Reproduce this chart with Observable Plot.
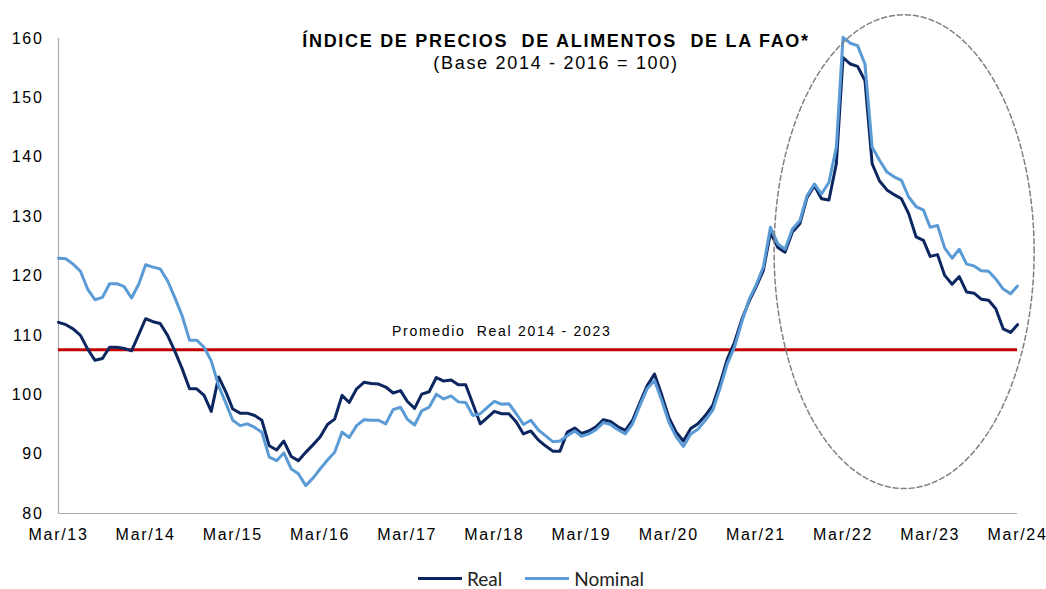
<!DOCTYPE html>
<html>
<head>
<meta charset="utf-8">
<script src="https://cdn.jsdelivr.net/npm/d3@7"></script>
<script src="https://cdn.jsdelivr.net/npm/@observablehq/plot@0.6"></script>
<style>
  body { margin: 0; background: #fff; }
  #wrap { position: relative; width: 1046px; height: 589px; overflow: hidden; }
  svg text { white-space: pre; }
  #legend { position: absolute; top: 569px; left: 418px; display: flex; align-items: center; line-height: 19px; height: 19px;
            font-family: Lato, "Liberation Sans", sans-serif; font-size: 19px; color: #222; }
  .sw { display: inline-block; width: 44px; height: 3px; margin-right: 5px; }
  .item { display: flex; align-items: center; margin-right: 23px; }
</style>
</head>
<body>
<div id="wrap"></div>
<script>
// ---- Data (monthly, Mar 2013 – Mar 2024) ----
const startYear = 2013, startMonth = 2; // March 2013
const real = [
  112.2,111.8,111.1,110.0,107.7,105.8,106.1,108.0,108.0,107.8,
  107.4,110.2,112.8,112.3,112.0,110.0,107.4,104.4,101.0,101.0,
  99.9,97.2,103.0,100.4,97.6,96.9,96.9,96.5,95.7,91.4,
  90.7,92.2,89.6,88.9,90.3,91.6,92.9,95.0,95.9,99.9,
  98.7,101.0,102.1,101.9,101.8,101.3,100.3,100.7,98.9,97.7,
  100.1,100.5,102.9,102.3,102.5,101.7,101.7,98.5,95.1,96.2,
  97.2,96.8,96.8,95.4,93.4,93.9,92.4,91.4,90.5,90.5,
  93.7,94.4,93.5,93.9,94.6,95.8,95.5,94.6,94.0,95.7,
  98.7,101.5,103.5,99.9,96.2,93.7,92.2,94.3,95.1,96.5,
  98.2,101.8,106.0,108.8,112.7,115.8,118.1,120.9,127.3,124.8,
  124.0,127.4,128.8,133.2,135.2,133.0,132.8,138.9,156.8,155.7,
  155.3,152.9,138.9,136.0,134.5,133.7,133.0,130.5,126.6,126.0,
  123.3,123.6,120.1,118.6,119.9,117.3,117.1,116.1,115.9,114.5,
  111.1,110.5,111.8
];
const nominal = [
  123.0,122.9,122.0,120.8,117.8,116.0,116.4,118.7,118.7,118.2,
  116.3,118.7,121.9,121.5,121.2,119.2,116.4,113.3,109.2,109.2,
  108.0,105.7,101.5,98.5,95.7,94.8,95.1,94.5,93.7,89.5,
  88.9,90.2,87.5,86.7,84.7,86.0,87.5,89.0,90.3,93.7,
  92.8,94.8,95.8,95.7,95.7,95.1,97.5,97.9,95.9,94.9,
  97.3,97.9,100.1,99.3,99.8,98.8,98.7,96.5,96.8,97.9,
  98.9,98.4,98.5,96.8,95.0,95.7,94.1,93.1,92.1,92.2,
  93.1,93.9,93.0,93.4,94.1,95.3,95.0,94.1,93.4,95.1,
  98.2,101.0,102.4,99.0,95.4,92.9,91.3,93.4,94.2,95.7,
  97.4,101.0,105.2,108.0,112.3,116.1,118.4,121.5,128.2,125.4,
  124.5,127.9,129.3,133.5,135.5,133.8,135.8,141.7,160.2,159.2,
  158.8,155.7,141.7,139.5,137.5,136.7,136.1,133.3,131.7,131.1,
  128.2,128.5,124.7,123.0,124.5,122.0,121.7,120.9,120.8,119.5,
  117.8,117.0,118.3
];
const xTickYears = [2013,2014,2015,2016,2017,2018,2019,2020,2021,2022,2023,2024];
const yTicks = [80,90,100,110,120,130,140,150,160];
const averageReal = 107.6;
const averageLabel = "Promedio  Real 2014 - 2023";
const titleText = "ÍNDICE DE PRECIOS  DE ALIMENTOS  DE LA FAO*";
const subtitleText = "(Base 2014 - 2016 = 100)";
const seriesNames = ["Real", "Nominal"];
const colors = {Real: "#0C2660", Nominal: "#5B9BD5"};
// highlight ellipse (centre in months from start / index value, radii)
const ellipseSpec = {centerMonth: 116.4, centerValue: 124.1, radiusMonths: 17.9, radiusValue: 39.9};

// ---- Build table ----
const dates = real.map((_, i) => new Date(Date.UTC(startYear, startMonth + i, 1)));
const table = dates.map((d, i) => ({date: d, real: real[i], nominal: nominal[i]}));
const xTicks = xTickYears.map(y => new Date(Date.UTC(y, 2, 1)));
const t0 = dates[0].getTime(), monthMs = 30.4375 * 864e5;
const ellipse = d3.range(0, 361, 2).map(a => {
  const t = a * Math.PI / 180;
  return {
    date: new Date(t0 + (ellipseSpec.centerMonth + ellipseSpec.radiusMonths * Math.cos(t)) * monthMs),
    value: ellipseSpec.centerValue + ellipseSpec.radiusValue * Math.sin(t)
  };
});

const chart = Plot.plot({
  width: 1046,
  height: 560,
  marginTop: 38,
  marginBottom: 47,
  marginLeft: 58,
  marginRight: 29,
  style: {fontFamily: "'Liberation Sans', Arial, sans-serif", fontSize: "16px", color: "#000", background: "#fff", letterSpacing: "1.7px"},
  x: {type: "utc", domain: [dates[0], dates[dates.length - 1]], ticks: xTicks,
      tickFormat: d => "Mar/" + String(d.getUTCFullYear()).slice(2), tickSize: 0, tickPadding: 15, label: null},
  y: {domain: [80, 160], ticks: yTicks, tickSize: 0, tickPadding: 15, label: null},
  marks: [
    Plot.ruleX([dates[0]], {stroke: "#AAAAAA", strokeWidth: 1.2}),
    Plot.ruleY([80], {stroke: "#AAAAAA", strokeWidth: 1.2}),
    Plot.ruleY([averageReal], {stroke: "#C00000", strokeWidth: 3}),
    Plot.line(table, {x: "date", y: "real", stroke: colors.Real, strokeWidth: 3}),
    Plot.line(table, {x: "date", y: "nominal", stroke: colors.Nominal, strokeWidth: 3}),
    Plot.line(ellipse, {x: "date", y: "value", stroke: "#808080", strokeWidth: 1.5, strokeDasharray: "5,3"}),
    Plot.text([averageLabel], {x: dates[61], y: averageReal, dy: -18, text: d => d, fontSize: 14, fill: "#000", lineAnchor: "middle", ariaLabel: "avg"}),
    Plot.text([titleText], {frameAnchor: "top", dx: 18, dy: 3, text: d => d, fontSize: 18, fontWeight: "bold", fill: "#000", lineAnchor: "middle", ariaLabel: "title"}),
    Plot.text([subtitleText], {frameAnchor: "top", dx: 18, dy: 25, text: d => d, fontSize: 18, fill: "#000", lineAnchor: "middle", ariaLabel: "subtitle"})
  ]
});
d3.select(chart).selectAll('g[aria-label="title"] text').style("letter-spacing", "2.1px");
d3.select(chart).selectAll('g[aria-label="subtitle"] text').style("letter-spacing", "1.8px");
const wrap = document.getElementById("wrap");
wrap.appendChild(chart);

const legend = document.createElement("div");
legend.id = "legend";
seriesNames.forEach(name => {
  const item = document.createElement("span");
  item.className = "item";
  const sw = document.createElement("span");
  sw.className = "sw";
  sw.style.background = colors[name];
  const lab = document.createElement("span");
  lab.textContent = name;
  item.appendChild(sw); item.appendChild(lab);
  legend.appendChild(item);
});
wrap.appendChild(legend);
</script>
</body>
</html>
